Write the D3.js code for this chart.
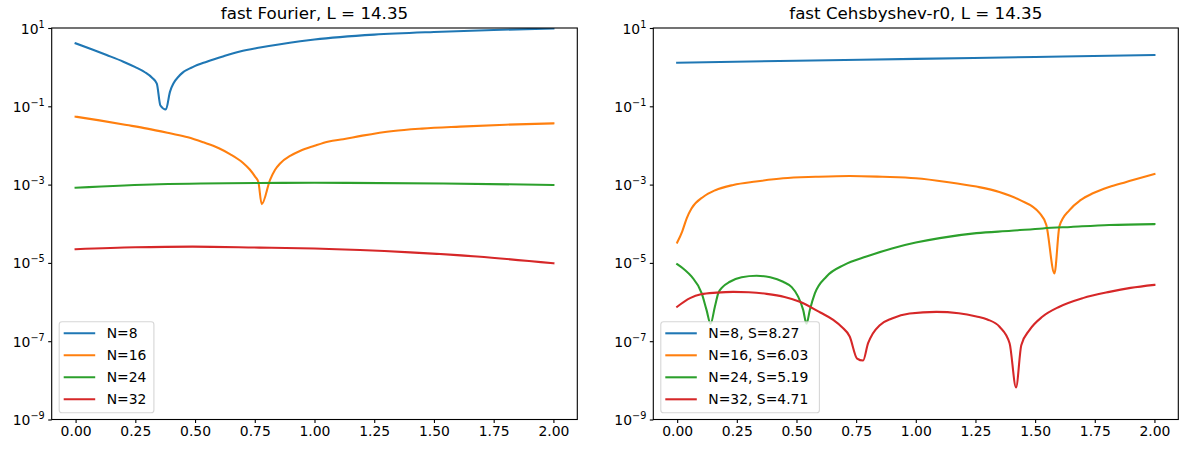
<!DOCTYPE html>
<html>
<head>
<meta charset="utf-8">
<script src="https://cdn.jsdelivr.net/npm/d3@7/dist/d3.min.js"></script>
<style>
  html, body { margin: 0; padding: 0; background: #fff; }
  svg { display: block; font-family: "DejaVu Sans", sans-serif; }
</style>
</head>
<body>
<svg id="chart" width="1181" height="449"></svg>
<script>
// ---- data -------------------------------------------------------------
const titles = ["fast Fourier, L = 14.35", "fast Cehsbyshev-r0, L = 14.35"];
const xTicks = [0, 0.25, 0.5, 0.75, 1.0, 1.25, 1.5, 1.75, 2.0];
const yTicks = [1e1, 1e-1, 1e-3, 1e-5, 1e-7, 1e-9];
const yExponents = [1, -1, -3, -5, -7, -9];
const colors = ["#1f77b4", "#ff7f0e", "#2ca02c", "#d62728"];

const fourierLabels = ["N=8", "N=16", "N=24", "N=32"];
const chebLabels = ["N=8, S=8.27", "N=16, S=6.03", "N=24, S=5.19", "N=32, S=4.71"];

// error vs. x, fast Fourier
const fourierN8 = [[0, 4.07], [0.07, 2.82], [0.13, 2.04], [0.2, 1.38], [0.25, 1.0], [0.29, 0.741],
  [0.32, 0.537], [0.34, 0.38], [0.355, 0.105], [0.378, 0.083], [0.395, 0.234], [0.437, 0.63],
  [0.49, 1.0], [0.549, 1.38], [0.62, 1.91], [0.688, 2.51], [0.772, 3.16], [0.85, 3.8],
  [0.94, 4.57], [1.0, 5.07], [1.25, 6.76], [1.5, 7.94], [1.75, 8.91], [2.0, 9.77]];
const fourierN16 = [[0, 0.0543], [0.1, 0.0437], [0.214, 0.0333], [0.3, 0.0269], [0.395, 0.0204],
  [0.47, 0.0162], [0.535, 0.012], [0.6, 0.0085], [0.646, 0.00603], [0.7, 0.00363],
  [0.73, 0.0024], [0.752, 0.00158], [0.765, 0.00117], [0.779, 3.16e-4], [0.814, 0.00132],
  [0.835, 0.0024], [0.856, 0.00347], [0.9, 0.0055], [0.939, 0.00724], [1.0, 0.00977],
  [1.06, 0.0126], [1.12, 0.01445], [1.2, 0.0178], [1.33, 0.0234], [1.45, 0.0269],
  [1.609, 0.0302], [1.8, 0.0339], [2.0, 0.0367]];
const fourierN24 = [[0, 8.3e-4], [0.35, 1.02e-3], [0.77, 1.1e-3], [1.0, 1.11e-3],
  [1.54, 1.07e-3], [2.0, 9.8e-4]];
const fourierN32 = [[0, 2.24e-5], [0.25, 2.5e-5], [0.49, 2.6e-5], [0.77, 2.46e-5],
  [1.0, 2.34e-5], [1.4, 1.86e-5], [1.68, 1.45e-5], [2.0, 9.8e-6]];

// error vs. x, fast Chebyshev
const chebN8 = [[0, 1.3], [0.5, 1.455], [1.0, 1.63], [1.5, 1.82], [2.0, 2.04]];
const chebN16 = [[0, 3.3e-5], [0.021, 6.3e-5], [0.04, 1.38e-4], [0.06, 2.45e-4], [0.11, 4.9e-4],
  [0.16, 7.2e-4], [0.235, 9.8e-4], [0.33, 1.2e-3], [0.444, 1.45e-3], [0.58, 1.58e-3],
  [0.723, 1.66e-3], [0.86, 1.58e-3], [1.0, 1.45e-3], [1.13, 1.17e-3], [1.254, 8.9e-4],
  [1.35, 6.5e-4], [1.435, 4.07e-4], [1.519, 1.86e-4], [1.547, 9.3e-5], [1.581, 5.4e-6],
  [1.602, 8.7e-5], [1.644, 2.24e-4], [1.69, 4.0e-4], [1.742, 6.0e-4], [1.81, 8.7e-4],
  [1.882, 1.17e-3], [1.94, 1.48e-3], [2.0, 1.86e-3]];
const chebN24 = [[0, 9.3e-6], [0.03, 6.8e-6], [0.06, 4.5e-6], [0.103, 1.66e-6], [0.123, 6.3e-7],
  [0.14, 2.8e-7], [0.158, 7.6e-7], [0.172, 1.66e-6], [0.19, 2.4e-6], [0.221, 3.3e-6],
  [0.27, 4.3e-6], [0.333, 4.7e-6], [0.39, 4.3e-6], [0.444, 3.3e-6], [0.48, 2.4e-6],
  [0.507, 1.38e-6], [0.528, 6.3e-7], [0.542, 2.8e-7], [0.556, 6.3e-7], [0.577, 1.66e-6],
  [0.626, 4.5e-6], [0.7, 8.9e-6], [0.793, 1.45e-5], [0.9, 2.34e-5], [1.0, 3.3e-5],
  [1.1, 4.3e-5], [1.254, 5.75e-5], [1.4, 6.6e-5], [1.532, 7.6e-5], [1.65, 8.3e-5],
  [1.811, 9.3e-5], [2.0, 9.8e-5]];
const chebN32 = [[0, 7.6e-7], [0.054, 1.26e-6], [0.1, 1.58e-6], [0.165, 1.74e-6],
  [0.235, 1.82e-6], [0.3, 1.78e-6], [0.375, 1.62e-6], [0.45, 1.35e-6], [0.514, 1.02e-6],
  [0.6, 5.4e-7], [0.654, 3.5e-7], [0.69, 2.3e-7], [0.723, 1.32e-7], [0.754, 3.6e-8],
  [0.779, 3.2e-8], [0.8, 8.9e-8], [0.82, 1.58e-7], [0.849, 2.57e-7], [0.9, 3.8e-7],
  [0.974, 5.1e-7], [1.086, 5.6e-7], [1.18, 5.2e-7], [1.254, 4.3e-7], [1.3, 3.6e-7],
  [1.351, 2.34e-7], [1.393, 8.9e-8], [1.42, 6.6e-9], [1.442, 7.9e-8], [1.477, 1.95e-7],
  [1.53, 4.2e-7], [1.602, 7.6e-7], [1.7, 1.26e-6], [1.811, 1.82e-6], [1.9, 2.3e-6],
  [2.0, 2.75e-6]];

// ---- layout -----------------------------------------------------------
const svg = d3.select("#chart");
const plotTop = 28, plotBottom = 419.5;
const FS = 13.9;

const panels = [
  { left: 51.7, right: 577.3, title: titles[0], series: [fourierN8, fourierN16, fourierN24, fourierN32],
    labels: fourierLabels, legendW: 94.7 },
  { left: 653.3, right: 1178.3, title: titles[1], series: [chebN8, chebN16, chebN24, chebN32],
    labels: chebLabels, legendW: 158.6 }
];

panels.forEach((p, i) => {
  const x = d3.scaleLinear().domain([-0.1, 2.1]).range([p.left, p.right]);
  const y = d3.scaleLog().domain([1e-9, 1e1]).range([plotBottom, plotTop]);
  const g = svg.append("g");

  const clipId = "clip" + i;
  g.append("clipPath").attr("id", clipId).append("rect")
    .attr("x", p.left).attr("y", plotTop).attr("width", p.right - p.left).attr("height", plotBottom - plotTop);

  const line = d3.line().x(d => x(d[0])).y(d => y(d[1])).curve(d3.curveMonotoneX);
  const plot = g.append("g").attr("clip-path", `url(#${clipId})`);
  p.series.forEach((s, k) => {
    plot.append("path").datum(s).attr("d", line)
      .attr("fill", "none").attr("stroke", colors[k]).attr("stroke-width", 2.08)
      .attr("stroke-linejoin", "round").attr("stroke-linecap", "square");
  });

  // axes
  const xAxis = d3.axisBottom(x).tickValues(xTicks).tickFormat(d3.format(".2f"))
    .tickSize(3.5).tickPadding(3.5);
  const gx = g.append("g").attr("transform", `translate(0,${plotBottom})`).call(xAxis);
  gx.select(".domain").remove();
  gx.selectAll("line").attr("stroke", "#000").attr("stroke-width", 1.1);
  gx.selectAll("text").attr("font-size", FS).attr("font-family", "DejaVu Sans").attr("fill", "#000");

  const yAxis = d3.axisLeft(y).tickValues(yTicks).tickFormat("").tickSize(3.5).tickPadding(3.5);
  const gy = g.append("g").attr("transform", `translate(${p.left},0)`).call(yAxis);
  gy.select(".domain").remove();
  gy.selectAll("line").attr("stroke", "#000").attr("stroke-width", 1.1);
  gy.selectAll(".tick text").each(function (d, j) {
    const t = d3.select(this).attr("font-size", FS).attr("font-family", "DejaVu Sans")
      .attr("fill", "#000").attr("dy", null).attr("y", 5).attr("x", -7);
    t.text(null);
    t.append("tspan").text("10");
    const e = yExponents[j];
    t.append("tspan").attr("font-size", 9.7).attr("dy", -6)
      .text(e < 0 ? "\u2212" + (-e) : String(e));
  });

  // spines
  g.append("rect").attr("x", p.left).attr("y", plotTop)
    .attr("width", p.right - p.left).attr("height", plotBottom - plotTop)
    .attr("fill", "none").attr("stroke", "#000").attr("stroke-width", 1.1);

  // title
  g.append("text").attr("x", (p.left + p.right) / 2).attr("y", 19)
    .attr("text-anchor", "middle").attr("font-size", 16.7).attr("fill", "#000").text(p.title);

  // legend
  const lx = p.left + 7.5, ly = 321.7, lh = 91;
  const lg = g.append("g");
  lg.append("rect").attr("x", lx).attr("y", ly).attr("width", p.legendW).attr("height", lh)
    .attr("rx", 2.8).attr("fill", "#fff").attr("fill-opacity", 0.8)
    .attr("stroke", "#ccc").attr("stroke-opacity", 0.8).attr("stroke-width", 1.1);
  p.labels.forEach((lab, k) => {
    const cy = 333.3 + k * 22;
    lg.append("line").attr("x1", lx + 4.5).attr("x2", lx + 36).attr("y1", cy).attr("y2", cy)
      .attr("stroke", colors[k]).attr("stroke-width", 2.08);
    lg.append("text").attr("x", lx + 47.5).attr("y", cy + 5).attr("font-size", FS)
      .attr("fill", "#000").text(lab);
  });
});
</script>
</body>
</html>
